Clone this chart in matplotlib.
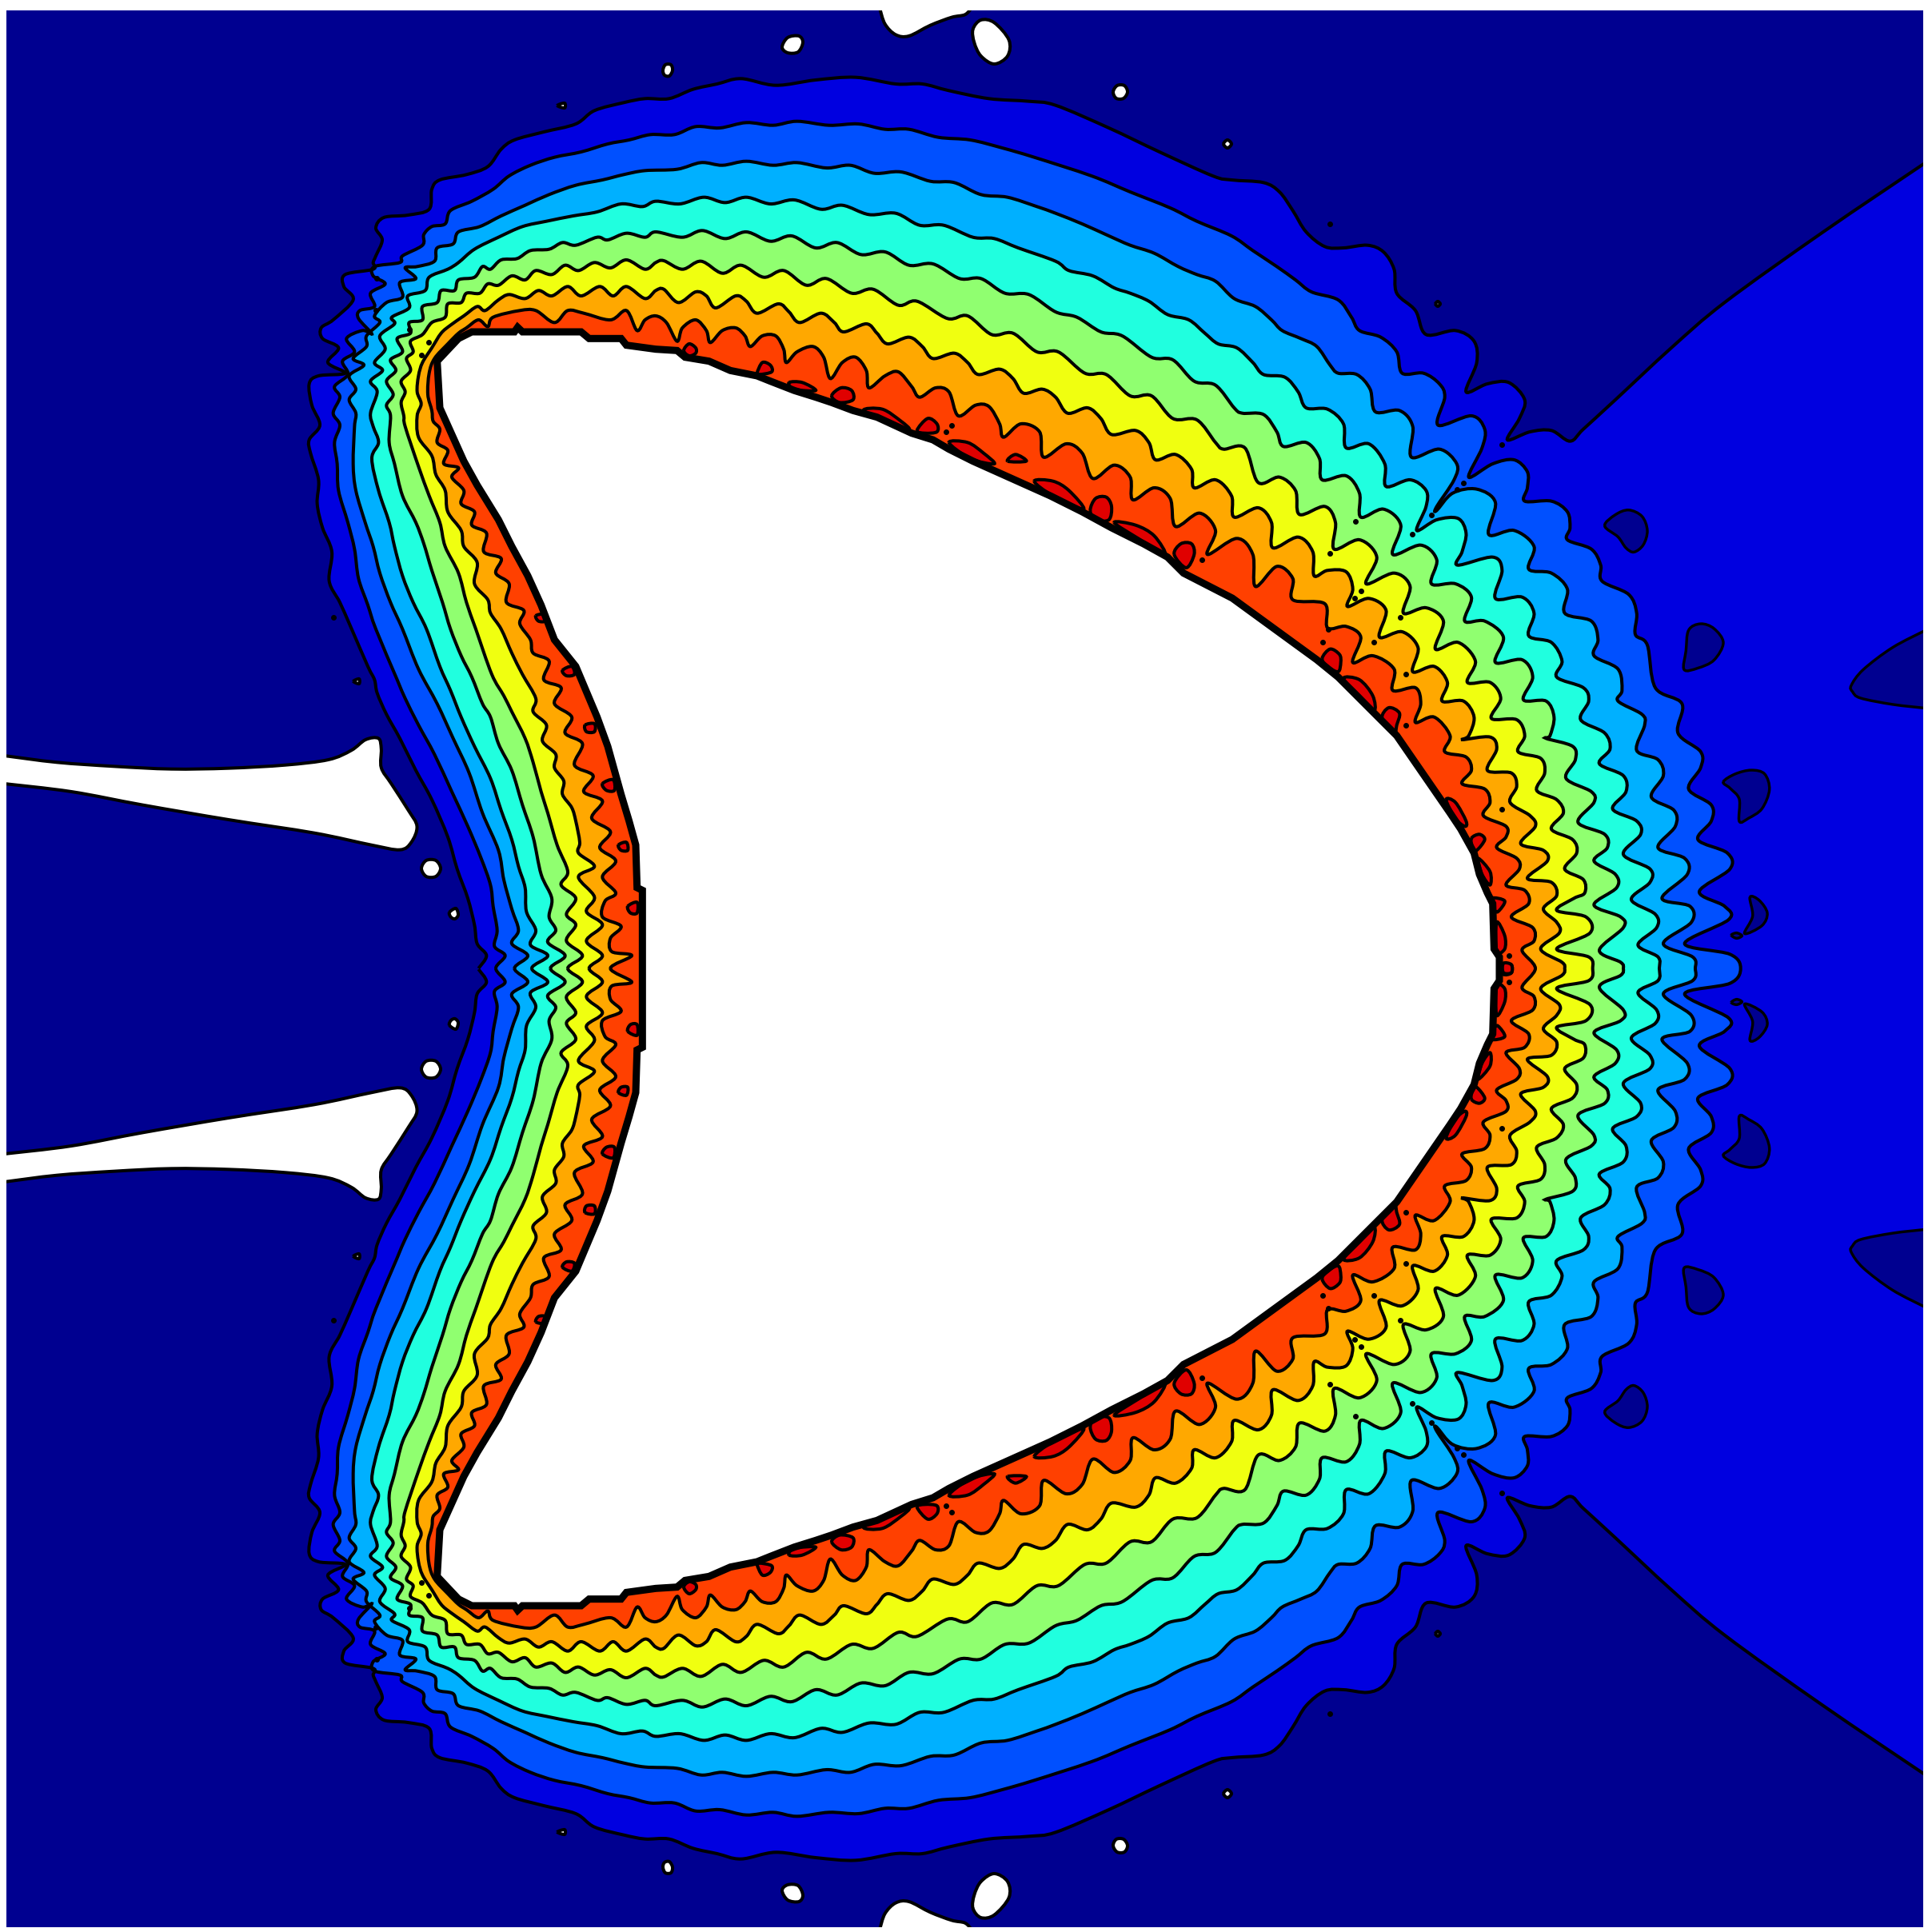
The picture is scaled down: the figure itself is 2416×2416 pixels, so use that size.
import numpy as np
import matplotlib
matplotlib.use("Agg")
import matplotlib.pyplot as plt
from matplotlib.path import Path
from matplotlib.patches import PathPatch

CY = 1211.5
def crop(ox, oy, pts, sx=1/3, sy=1/3):
    return [(ox + p[0]*sx, oy + p[1]*sy) for p in pts]
def A(p): return crop(400, 800, p)     # lower left
def B(p): return crop(360, 320, p)     # upper left
def L(p): return crop(400, 320, p)     # corner
def D(p): return crop(520, 80, p)      # top left
def E(p): return crop(820, 80, p)      # top
def F(p): return crop(1280, 220, p)    # upper right
def H(p): return crop(1660, 260, p)    # outer upper right
def G(p): return crop(1640, 500, p)    # right
def K(p): return crop(1800, 860, p)    # right middle

level_1 = (A([(595,1233),(625,1185),(590,1140),(580,1070),(555,970),(515,860),(480,740),(420,600),(360,490),(300,370),(250,280),(215,200),(205,150),(180,100)])
  + B([(235,1390),(195,1300),(155,1220),(165,1110),(130,1020),(110,930),(115,840),(85,740),(80,690),(120,635),(90,560),(80,480),(115,450),(215,440),(150,400),(190,345),(130,310),(125,270),(170,240),(245,165),(210,115),(215,70),(320,50),(320,25),(330,0)])
  + [(478,300),(470,285),(480,272),(510,269)]
  + D([(50,545),(60,470),(90,435),(190,415),(270,385),(320,320),(370,285),(480,255),(600,225),(670,175),(780,145),(860,130)])
  + E([(50,130),(140,95),(230,75),(320,55),(450,80),(600,60),(750,50),(900,75),(1000,75),(1100,100),(1250,130),(1400,140),(1500,155)])
  + F([(320,-180),(510,-90),(710,0),(780,15),(900,25),(960,60),(1010,130),(1060,210),(1130,265)])
  + H([(60,150),(150,140),(210,165),(250,230),(260,320),(330,385),(370,475),(480,460),(550,500),(560,580),(520,690),(600,660),(680,655),(740,720),(720,790),(675,870),(760,840),(840,835),(910,875),(960,830)])
  + [(2020,500),(2090,435),(2157,378),(2280,290),(2410,202)])

level_2 = (A([(660,1233),(695,1185),(655,1150),(665,1090),(650,1000),(640,920),(605,820),(555,700),(495,570),(430,430),(370,320),(320,220),(290,150)])
  + B([(330,1400),(300,1310),(265,1210),(250,1100),(225,1000),(190,880),(185,780),(175,700),(195,635)])
  + L([(50,590),(75,530),(55,490),(105,445),(85,395),(130,360),(100,310),(160,280),(195,292),(145,235),(150,205),(205,190),(190,140),(245,105),(200,75),(205,40),(300,25),(310,0)])
  + D([(25,680),(30,640),(60,610),(110,600),(130,550),(210,515),(290,470),(350,420),(430,380),(520,350),(620,330),(720,300),(800,285),(880,265)])
  + E([(70,265),(150,235),(240,240),(340,220),(440,230),(530,215),(650,230),(760,225),(860,245),(950,245),(1060,275),(1180,285),(1300,315),(1420,350)])
  + F([(255,0),(400,60),(550,120),(650,170),(780,225),(860,280),(950,340),(1020,390),(1080,435),(1180,465),(1230,530),(1260,580),(1340,605),(1400,660),(1420,740)])
  + H([(360,620),(420,660),(440,710),(415,815)])
  + G([(600,60),(650,110),(640,180),(590,290),(680,240),(760,225),(810,270),(810,330),(800,380),(900,380),(960,420),(970,480),(960,525),(1050,560),(1085,620),(1090,680),(1190,730),(1220,800),(1215,880),(1260,920)])
  + K([(810,0),(910,60),(895,170),(980,240),(980,300),(935,380),(1020,440),(1020,500),(970,570),(1080,620),(1090,680),(975,765),(1070,820),(1085,870),(920,960),(1090,1000),(1130,1053)]))

level_3 = (A([(730,1233),(780,1185),(720,1140),(745,1090),(720,1010),(690,900),(670,790),(610,650),(560,500),(500,370),(440,240),(370,110)])
  + B([(430,1400),(385,1300),(345,1190),(320,1090),(290,1000),(255,880),(245,780),(250,640)])
  + L([(135,590),(110,540),(135,500),(110,450),(165,410),(125,385),(175,340),(175,300),(225,250),(205,225),(250,175),(310,155),(300,100),(360,85),(320,45)])
  + D([(5,760),(70,740),(80,690),(140,675),(160,630),(240,610),(320,570),(410,530),(500,490),(600,455),(700,435),(780,415),(860,400)])
  + E([(80,395),(170,370),(250,380),(340,365),(440,380),(530,370),(640,390),(730,380),(820,410),(920,405),(1030,440),(1120,445),(1220,490),(1320,500),(1430,535)])
  + F([(120,140),(220,180),(320,225),(400,260),(490,290),(580,340),(650,370),(720,395),(790,460),(870,490),(930,540),(970,580),(1040,610),(1100,640),(1150,710),(1180,740),(1250,745),(1300,800),(1320,885)])
  + G([(330,40),(380,100),(375,215),(480,185),(545,240),(535,300),(470,400),(470,415),(530,350),(620,335),(690,385),(665,505),(760,490),(835,550),(815,635),(900,650),(960,710),(950,800),(1050,830),(1075,900),(1060,960),(1150,1010),(1165,1090),(1150,1130),(1240,1180)])
  + K([(770,140),(740,235),(820,270),(840,330),(795,410),(880,460),(885,520),(820,600),(920,640),(930,700),(835,790),(940,820),(945,880),(840,960),(950,1010),(960,1053)]))

level_4 = (A([(795,1233),(855,1185),(790,1145),(810,1090),(775,1020),(770,930),(745,850),(720,750),(680,640),(640,520),(580,400),(530,290),(490,190),(450,100)])
  + B([(520,1400),(470,1300),(430,1200),(400,1090),(380,1000),(340,880),(315,760),(340,700),(320,640)])
  + L([(190,590),(215,510),(190,470),(235,430),(205,400),(245,350),(225,300),(280,255),(270,230),(335,195),(330,150),(395,130)])
  + D([(50,800),(120,770),(160,745),(220,695),(310,650),(400,610),(490,590),(590,570),(680,555),(770,525),(850,535)])
  + E([(0,515),(90,525),(180,500),(260,520),(340,500),(430,525),(520,510),(620,545),(700,530),(800,565),(900,560),(990,605),(1080,605),(1190,650),(1270,655),(1360,690)])
  + F([(120,320),(170,355),(260,375),(340,420),(400,440),(470,470),(540,520),(620,540),(680,590),(730,630),(800,645),(860,700),(900,745),(980,755),(1030,810),(1060,870),(1140,875),(1200,930),(1210,1020)])
  + G([(215,165),(275,240),(280,325),(370,300),(430,340),(430,400),(395,490),(470,450),(550,445),(580,500),(565,570),(548,620),(680,590),(715,640),(690,745),(790,740),(835,800),(815,885),(900,910),(940,980),(920,1040),(1020,1080),(1040,1130),(1010,1200),(1100,1250)])
  + K([(640,230),(600,285),(690,330),(700,390),(650,455),(740,500),(755,550),(690,625),(790,680),(790,730),(720,795),(810,850),(815,900),(745,965),(820,1010),(825,1053)]))

level_5 = (A([(865,1233),(920,1185),(855,1135),(885,1090),(860,1040),(870,970),(830,880),(800,740),(760,620),(720,490),(670,390),(640,290),(610,240),(570,140),(530,60)])
  + B([(610,1400),(580,1300),(540,1180),(510,1080),(480,1000),(430,900),(400,780),(380,700)])
  + L([(265,600),(250,560),(275,520),(250,470),(285,430),(265,390),(310,360),(290,310),(340,290),(335,250),(385,240),(385,190)])
  + D([(80,895),(95,850),(145,850),(160,810),(220,800),(250,760),(280,770),(320,735),(380,730),(430,700),(500,695),(550,670),(600,680),(680,650),(720,660),(790,635),(860,650)])
  + E([(0,630),(100,650),(175,625),(260,655),(340,630),(430,665),(510,645),(600,690),(680,670),(770,715),(860,705),(950,755),(1040,750),(1140,805),(1220,805),(1310,860),(1400,865)])
  + F([(120,510),(200,530),(290,585),(370,600),(480,680),(560,690),(640,770),(720,785),(790,870),(820,890),(900,895),(950,960),(975,1015),(1060,1000),(1110,1060),(1120,1140),(1210,1125),(1260,1190),(1265,1280)])
  + G([(270,410),(335,470),(305,580),(410,545),(470,600),(450,690),(540,690),(600,740),(575,830),(650,830),(720,890),(690,985),(790,975),(830,1040),(795,1125),(880,1130),(910,1190),(895,1260)])
  + K([(400,190),(500,220),(510,270),(475,340),(570,390),(580,430),(520,505),(620,550),(630,600),(580,650),(660,700),(665,750),(580,815),(680,860),(690,900),(600,985),(680,1030),(690,1053)]))

level_6 = (A([(930,1233),(985,1185),(925,1130),(960,1070),(925,1030),(960,970),(905,920),(930,870),(890,770),(855,650),(830,570),(800,460),(770,370),(720,270),(690,210),(645,130)])
  + B([(705,1400),(670,1300),(640,1190),(590,1090),(570,1000),(530,900),(490,790),(440,640)])
  + L([(315,600),(305,550),(320,510),(305,470),(340,430),(325,385),(350,360),(340,320),(385,295)])
  + D([(60,970),(110,950),(120,900),(170,895),(190,860),(240,860),(270,825),(310,830),(360,795),(410,810),(450,775),(510,790),(560,755),(610,775),(670,745),(730,765),(790,735),(860,770)])
  + E([(0,745),(30,738),(100,770),(170,740),(250,785),(320,755),(405,800),(480,775),(565,830),(640,805),(735,860),(815,845),(910,905),(980,890),(1095,955),(1170,945),(1260,1015),(1340,1010),(1430,1080)])
  + F([(130,660),(230,740),(310,745),(400,825),(480,825),(560,910),(650,915),(720,1000),(750,1025),(830,1020),(880,1150),(960,1130),(1020,1180),(1035,1270),(1130,1240),(1170,1300),(1165,1400)])
  + G([(180,525),(245,590),(205,690),(310,650),(370,700),(345,800),(430,780),(495,830),(465,935),(550,910),(615,980),(585,1060),(670,1060),(710,1120),(675,1195),(770,1200),(800,1260)])
  + K([(295,240),(380,265),(395,320),(365,385),(440,420),(465,470),(420,530),(500,570),(515,620),(470,680),(540,720),(545,770),(505,790),(440,835),(550,860),(565,920),(440,980),(560,1010),(575,1053)]))

level_7 = (A([(1010,1233),(1060,1185),(1000,1130),(1060,1070),(1000,1020),(1030,965),(970,890),(1030,850),(970,800),(975,760),(960,680),(945,630),(910,580),(915,530),(880,480),(885,430),(835,380),(850,320),(800,270),(810,220),(760,130),(720,50)])
  + B([(800,1400),(760,1340),(750,1290),(700,1230),(710,1150),(660,1090),(650,1030),(600,960),(590,880),(555,820),(540,750),(490,680)])
  + L([(365,600),(380,555),(365,510),(370,450),(385,400),(420,345),(455,290)])
  + D([(130,980),(180,945),(230,910),(260,925),(310,885),(350,865),(410,880),(460,850),(510,870),(570,835),(620,870),(690,835),(740,870),(790,835),(860,880)])
  + E([(0,850),(30,845),(85,895),(150,855),(190,870),(225,915),(300,870),(340,890),(380,935),(460,900),(500,930),(540,970),(620,935),(670,970),(705,1005),(790,975),(830,1010),(870,1050),(950,1025),(1000,1060),(1040,1105),(1120,1085),(1170,1120),(1210,1165),(1290,1145),(1340,1180),(1380,1235)])
  + F([(70,800),(120,830),(165,890),(240,870),(290,910),(330,970),(420,955),(470,1000),(495,1065),(570,1045),(630,1100),(640,1170),(720,1140),(780,1200),(790,1280),(880,1245),(930,1300),(935,1395),(1030,1355),(1085,1410),(1090,1500)])
  + G([(60,640),(130,645),(155,710),(135,775),(215,745),(280,790),(255,890),(340,870),(400,930),(380,1020),(460,1000),(510,1060),(490,1130),(570,1130),(610,1190),(590,1260)])
  + K([(85,195),(190,185),(215,230),(180,310),(270,320),(290,370),(265,430),(340,480),(360,520),(305,585),(390,610),(405,650),(330,715),(420,730),(440,780),(390,830),(440,880),(450,920),(380,980),(460,1030),(470,1053)]))

level_8 = (A([(1090,1233),(1170,1185),(1095,1170),(1090,1120),(1130,1075),(1060,1040),(1070,980),(1110,950),(1060,890),(1110,830),(1050,780),(1090,720),(1020,670),(1060,605),(990,570),(1025,510),(955,470),(985,390),(920,350),(945,290),(880,240),(905,180),(840,150),(860,80),(800,50)])
  + B([(910,1440),(870,1380),(885,1330),(820,1300),(830,1230),(780,1190),(800,1135),(735,1110),(745,1040),(690,1010),(700,960),(650,930),(660,880),(615,830),(640,795),(585,780),(600,730),(560,700),(570,650),(545,620)])
  + L([(420,580),(405,520),(410,440),(430,385),(480,330),(520,290)])
  + D([(190,990),(235,960),(270,985),(290,950),(390,925),(450,925),(520,970),(570,925),(630,935),(730,960),(790,925),(830,1000),(860,960)])
  + E([(0,945),(40,970),(80,1040),(100,990),(150,960),(190,1000),(205,1045),(250,1000),(300,990),(335,1020),(355,1060),(400,1020),(450,1020),(480,1070),(490,1120),(530,1080),(590,1060),(630,1100),(655,1180),(700,1120),(750,1100),(790,1150),(800,1215),(860,1170),(910,1155),(960,1210),(990,1250),(1050,1215),(1100,1230),(1135,1320),(1200,1280),(1250,1285),(1290,1350),(1305,1400),(1370,1350)])
  + F([(60,960),(75,1055),(160,1005),(220,1040),(260,1135),(340,1085),(400,1130),(410,1215),(490,1170),(550,1210),(570,1315),(660,1265),(720,1330),(690,1420),(800,1360),(860,1420),(870,1540),(950,1465),(1010,1510),(1010,1590)])
  + G([(50,765),(60,855),(130,850),(185,890),(155,985),(230,960),(310,1010),(305,1090),(390,1080),(410,1140),(390,1210),(460,1190),(520,1260)])
  + K([(20,240),(100,260),(120,310),(85,360),(170,380),(190,430),(165,480),(250,520),(250,560),(215,600),(290,640),(300,680),(250,740),(320,760),(335,810),(270,860),(350,900),(355,950),(310,985),(360,1053)]))

wall = (A([(1210,1233),(1210,940),(1190,930),(1185,770),(1160,680),(1130,580),(1080,400),(1040,290),(960,100)])
  + B([(1000,1440),(950,1310),(900,1200),(840,1090),(790,990),(710,860),(660,770),(570,570),(560,395),(640,310),(690,285),(850,285),(862,268),(880,285),(1100,285),(1130,310),(1250,310),(1270,335)])
  + E([(0,1070),(80,1075),(110,1100),(200,1115),(280,1150),(380,1170),(430,1190),(520,1225),(600,1250),(660,1270),(740,1300),(830,1325),(960,1385),(1040,1410),(1100,1445),(1190,1490)])
  + F([(100,1200),(220,1260),(330,1320),(450,1380),(540,1430),(600,1490)])
  + [(1541,748)]
  + G([(20,975),(100,1040),(230,1170),(320,1260)])
  + K([(40,470),(80,530),(130,620),(150,700),(180,770),(200,810),(205,980),(225,1010),(225,1053)]))

dark_red_cells = [
  E([(105,1075),(125,1050),(150,1065),(150,1085),(125,1095)]),
  E([(380,1160),(400,1120),(430,1130),(435,1155),(390,1165)]),
  E([(500,1195),(550,1195),(600,1225),(520,1220)]),
  E([(660,1245),(695,1215),(735,1225),(740,1260),(690,1270)]),
  E([(780,1300),(850,1295),(920,1340),(950,1370),(880,1350)]),
  E([(980,1375),(1020,1330),(1055,1350),(1055,1380),(1010,1385)]),
  E([(1100,1420),(1170,1420),(1230,1460),(1270,1500),(1180,1480)]),
  E([(1320,1490),(1350,1465),(1390,1490)]),
  F([(40,1145),(110,1145),(170,1180),(225,1250),(110,1200)]),
  F([(250,1255),(270,1210),(310,1205),(330,1240),(320,1290),(270,1290)]),
  F([(340,1300),(420,1310),(490,1350),(530,1420),(430,1360)]),
  F([(565,1420),(590,1380),(630,1380),(640,1420),(610,1470)]),
  G([(40,970),(70,935),(105,955),(110,985),(100,1020),(60,1000)]),
  G([(120,1045),(180,1050),(230,1110),(235,1165),(180,1110)]),
  G([(265,1195),(290,1155),(330,1175),(320,1220),(310,1250)]),
  K([(25,420),(60,430),(100,500),(95,520),(60,490)]),
  K([(120,565),(150,550),(170,570),(140,610),(125,600)]),
  K([(145,640),(190,690),(190,740),(160,700)]),
  K([(195,790),(245,800),(220,840),(205,830)]),
  K([(215,880),(245,930),(245,980),(215,990)]),
  K([(240,1040),(270,1040),(270,1070),(240,1075)]),
  B([(930,1350),(960,1345),(965,1370),(940,1370)]),
  A([(910,115),(945,100),(955,130),(925,135)]),
  A([(995,320),(1030,315),(1030,345),(1000,345)]),
  A([(1060,540),(1100,525),(1105,565),(1075,565)]),
  A([(1120,770),(1150,760),(1155,790),(1130,790)]),
  A([(1155,1000),(1190,985),(1190,1025),(1165,1025)]),
]

tail = crop(0, 900, [(15,135),(200,160),(400,175),(600,185),(800,182),(1000,170),(1150,150),(1230,115),(1280,75),(1325,70),(1335,110),(1335,180),(1370,240),(1430,340),(1460,400),(1440,460),(1400,488),(1300,470),(1100,425),(800,375),(500,320),(250,270),(15,240)], sx=1/2.8)
top_wedge = crop(1080, 0, [(60,30),(80,90),(120,130),(170,135),(250,95),(330,65),(380,55),(405,30)])
white_cells = [
  crop(1080, 0, [(410,110),(440,75),(490,85),(545,150),(540,210),(490,240),(440,210),(415,160)]),
  crop(991, 56, [(-13,3),(-6,-9),(8,-11),(13,-3),(7,9),(-6,10)], 1, 1),
  crop(1401, 115, [(-9,0),(-4,-8),(5,-8),(9,0),(4,8),(-5,8)], 1, 1),
  crop(1535, 180, [(-5,0),(0,-5),(5,0),(0,5)], 1, 1),
  crop(835, 88, [(-6,0),(-3,-7),(4,-7),(6,0),(2,7),(-4,6)], 1, 1),
  crop(702, 132, [(-5,0),(4,-3),(4,3)], 1, 1),
  crop(1798, 380, [(-3,0),(0,-3),(3,0),(0,3)], 1, 1),
  crop(539, 1086, [(-12,0),(-6,-10),(6,-10),(12,0),(6,10),(-6,10)], 1, 1),
  crop(567, 1142, [(-5,-1),(3,-6),(6,2),(2,7),(-3,5)], 1, 1),
  crop(446, 852, [(-4,0),(3,-3),(3,3)], 1, 1),
]
navy_cells = [
  crop(2000, 620, [(20,95),(60,60),(110,45),(160,65),(180,110),(165,155),(130,178),(100,165),(70,130)], 1/3, 1/2.53),
  crop(2000, 620, [(335,425),(380,405),(430,420),(465,465),(430,520),(370,545),(318,550),(325,490)], 1/3, 1/2.53),
  crop(2000, 620, [(465,905),(510,880),(570,868),(620,880),(638,930),(610,990),(560,1020),(525,1030),(525,960),(490,925)], 1/3, 1/2.53),
  crop(2000, 620, [(565,1270),(600,1280),(630,1320),(610,1360),(545,1385),(575,1330)], 1/3, 1/2.53),
  crop(2000, 620, [(495,1390),(515,1383),(535,1392),(515,1400)], 1/3, 1/2.53),
]
navy_wedge = crop(2000, 620, [(1225,425),(1100,480),(990,550),(945,600),(950,620),(980,640),(1100,660),(1225,672)], 1/3, 1/2.53)
dots = (G([(715,168),(570,312),(545,335),(450,432),(378,505),(165,455),(68,575),(187,718),(163,743),(332,816),(62,862),(42,908),(235,910),(355,1030),(355,1222)])
        + K([(235,455),(260,1005)]) + L([(213,85),(210,203),(335,275),(380,372),(407,325)]) + B([(170,1355)]) + E([(1090,1380),(1110,1355)]) + F([(1150,180),(670,1440)]))

band_colors = ["#000090", "#0000e0", "#0050ff", "#00b0ff", "#20ffdf", "#90ff70", "#f0ff10", "#ffa800", "#ff4000"]
dark_red = "#e00000"

def smooth(pts, closed=False):
    p = np.asarray(pts, float)
    if closed:
        p = np.vstack([p[-1], p, p[0], p[1]])
    else:
        p = np.vstack([p[0], p, p[-1]])
    verts = [p[1]]
    codes = [Path.MOVETO]
    for i in range(1, len(p) - 2):
        c1 = p[i] + (p[i+1] - p[i-1]) / 6
        c2 = p[i+1] - (p[i+2] - p[i]) / 6
        verts += [c1, c2, p[i+1]]
        codes += [Path.CURVE4] * 3
    return Path(np.array(verts), codes)

def straight_closed(*parts):
    verts, codes = [], []
    for k, part in enumerate(parts):
        sp = smooth(part)
        c = list(sp.codes)
        if k:
            c[0] = Path.LINETO
        verts += list(sp.vertices)
        codes += c
    verts.append(verts[0])
    codes.append(Path.CLOSEPOLY)
    return Path(np.array(verts), codes)

def mirror(pts):
    return [(x, 2*CY - y) for x, y in pts]

def full(pts):
    u = list(pts)
    low = mirror(u[::-1])
    if abs(u[-1][1] - CY) < 3:
        low = low[1:]
    if abs(u[0][1] - CY) < 3:
        low = low[:-1]
    return u + low

LW = 2.9
fig = plt.figure(figsize=(24.16, 24.16), dpi=100, facecolor="white")
ax = fig.add_axes([8/2416, 1 - 2410/2416, (2405-8)/2416, (2410-13)/2416])
ax.set_xlim(8, 2405)
ax.set_ylim(2410, 13)
ax.axis("off")
ax.add_patch(plt.Rectangle((8, 13), 2397, 2397, fc=band_colors[0], ec="none", zorder=0))

levels = [level_1, level_2, level_3, level_4, level_5, level_6, level_7, level_8]
ax.add_patch(PathPatch(straight_closed(level_1, mirror(level_1)[::-1]), fc=band_colors[1], ec="none", zorder=1))
for i, lv in enumerate(levels[1:], start=1):
    ax.add_patch(PathPatch(smooth(full(lv), closed=True), fc=band_colors[i+1], ec="none", zorder=i+1))
for seg in (level_1, mirror(level_1)):
    ax.add_patch(PathPatch(smooth(seg), fc="none", ec="black", lw=LW, zorder=20))
for lv in levels[1:]:
    ax.add_patch(PathPatch(smooth(full(lv), closed=True), fc="none", ec="black", lw=LW, zorder=20))

for cell in dark_red_cells:
    for c in (cell, mirror(cell)):
        ax.add_patch(PathPatch(smooth(c, closed=True), fc=dark_red, ec="black", lw=LW, zorder=21))

for cell in navy_cells:
    for c in (cell, mirror(cell)):
        ax.add_patch(PathPatch(smooth(c, closed=True), fc=band_colors[0], ec="black", lw=LW*0.85, zorder=21))
for c in (navy_wedge, mirror(navy_wedge)):
    ax.add_patch(PathPatch(straight_closed(c), fc=band_colors[0], ec="none", zorder=19))
    ax.add_patch(PathPatch(smooth(c), fc="none", ec="black", lw=LW*0.85, zorder=21))

for cell in white_cells:
    for c in (cell, mirror(cell)):
        ax.add_patch(PathPatch(smooth(c, closed=True), fc="white", ec="black", lw=LW, zorder=21))
for c in (tail, mirror(tail), top_wedge, mirror(top_wedge)):
    ax.add_patch(PathPatch(straight_closed(c), fc="white", ec="none", zorder=21))
    ax.add_patch(PathPatch(smooth(c), fc="none", ec="black", lw=LW, zorder=22))

dx = [d[0] for d in dots]
dy = [d[1] for d in dots]
ax.plot(dx + dx, dy + [2*CY - y for y in dy], ls="none", marker="o", ms=4, color="black", zorder=22)

ax.fill(*zip(*full(wall)), fc="white", ec="black", lw=6.5, joinstyle="miter", zorder=30)
fig.savefig("out.png", dpi=100, facecolor="white")
